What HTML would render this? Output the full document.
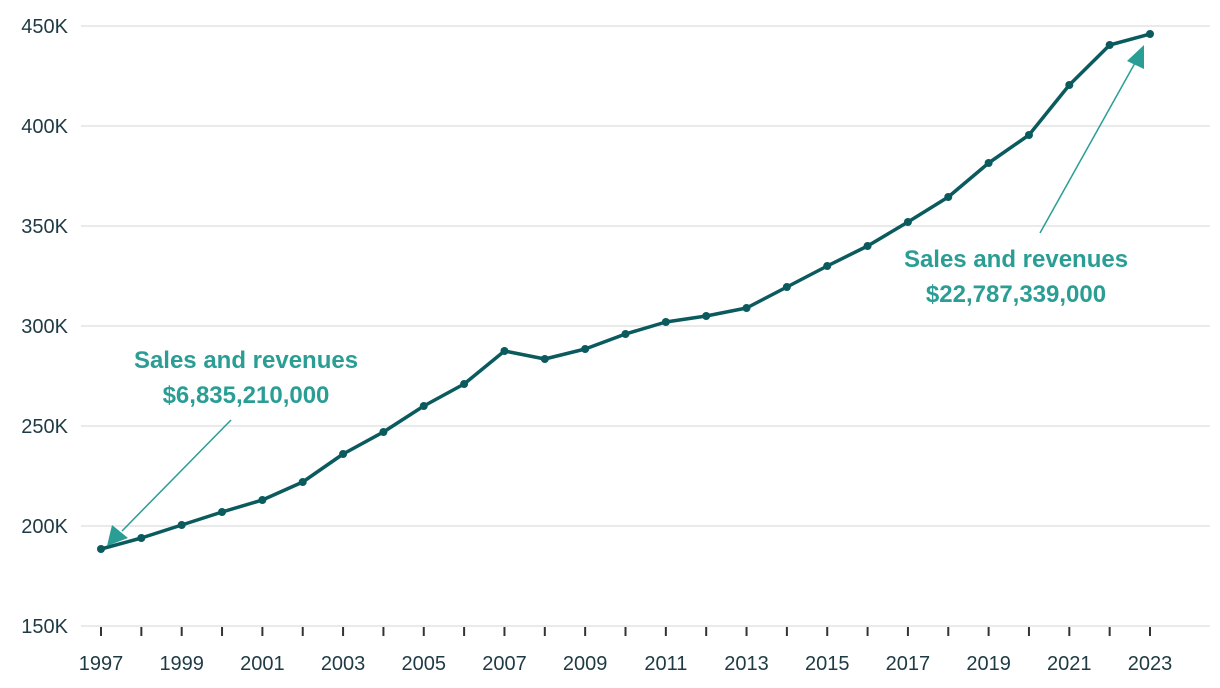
<!DOCTYPE html>
<html><head><meta charset="utf-8"><style>
body{margin:0;background:#fff;}
svg{display:block;font-family:"Liberation Sans",sans-serif;}
</style></head><body>
<svg id="chart" width="1220" height="688">
<g id="grid"></g><g id="yl"></g><g id="xt"></g><g id="line"></g>
<g>
<text x="246" y="368" text-anchor="middle" fill="#2a9d94" font-size="24" font-weight="bold">Sales and revenues</text>
<text x="246" y="403" text-anchor="middle" fill="#2a9d94" font-size="24" font-weight="bold">$6,835,210,000</text>
<line x1="231" y1="420" x2="122" y2="531" stroke="#2a9d94" stroke-width="1.5"/>
<polygon points="107,546 112,525 128,538" fill="#2a9d94"/>
</g>
<g>
<text x="1016" y="267" text-anchor="middle" fill="#2a9d94" font-size="24" font-weight="bold">Sales and revenues</text>
<text x="1016" y="302" text-anchor="middle" fill="#2a9d94" font-size="24" font-weight="bold">$22,787,339,000</text>
<line x1="1040" y1="233" x2="1135" y2="63" stroke="#2a9d94" stroke-width="1.5"/>
<polygon points="1144,45 1127,61 1144,69" fill="#2a9d94"/>
</g>
</svg>
<script>
const years=[1997,1998,1999,2000,2001,2002,2003,2004,2005,2006,2007,2008,2009,2010,2011,2012,2013,2014,2015,2016,2017,2018,2019,2020,2021,2022,2023];
const values=[188.5,194,200.5,207,213,222,236,247,260,271,287.5,283.5,288.5,296,302,305,309,319.5,330,340,352,364.5,381.5,395.5,420.5,440.5,446];
const yTicks=[150,200,250,300,350,400,450];
const yTickLabels=["150K","200K","250K","300K","350K","400K","450K"];
const NS="http://www.w3.org/2000/svg";
const x=yr=>101+(yr-1997)*(1150-101)/26;
const y=v=>626-(v-150)*2;
function mk(t,a,p){const e=document.createElementNS(NS,t);for(const k in a)e.setAttribute(k,a[k]);p.appendChild(e);return e;}
const grid=document.getElementById('grid'),yl=document.getElementById('yl'),xt=document.getElementById('xt'),ln=document.getElementById('line');
yTicks.forEach((v,i)=>{
 const g=mk('line',{x1:81,x2:1210,y1:y(v),y2:y(v),stroke:'#e3e3e3','stroke-width':1.5},grid);
 
 
 const t=mk('text',{x:68,y:y(v)+7,'text-anchor':'end','font-size':20,fill:'#1e3a44'},yl);
 t.textContent=yTickLabels[i];
 
 
});
years.forEach((yr,i)=>{
 const tk=mk('line',{x1:x(yr),x2:x(yr),y1:627,y2:636,stroke:'#333','stroke-width':2},xt);
 
 
 if(i%2===0){const t=mk('text',{x:x(yr),y:670,'text-anchor':'middle','font-size':20,fill:'#1e3a44'},xt);
 t.textContent=yr;
 
 }
});
const p=mk('polyline',{points:years.map((yr,i)=>x(yr)+','+y(values[i])).join(' '),fill:'none',stroke:'#0a5a5e','stroke-width':3.5,'stroke-linejoin':'round'},ln);


years.forEach((yr,i)=>{
 const c=mk('circle',{cx:x(yr),cy:y(values[i]),r:4,fill:'#0a5a5e'},ln);
 
 
});
</script>
</body></html>
